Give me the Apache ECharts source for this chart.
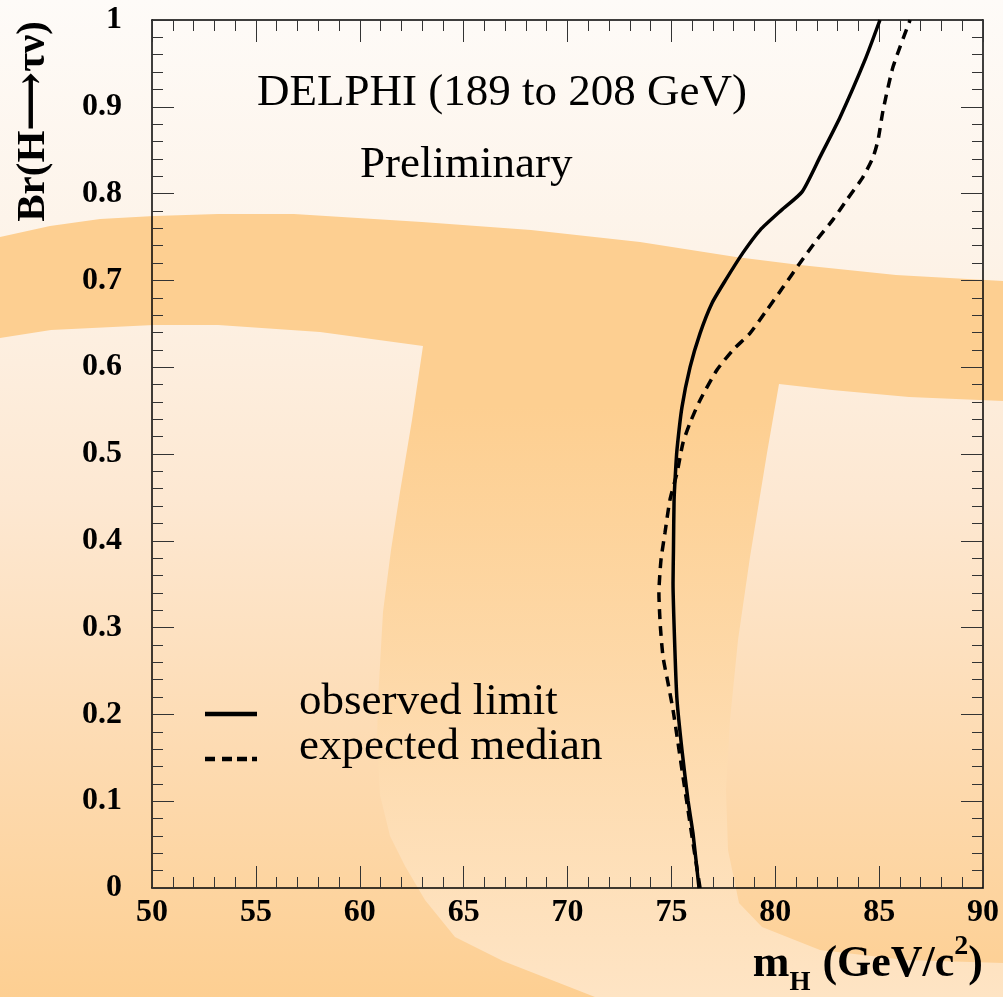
<!DOCTYPE html>
<html>
<head>
<meta charset="utf-8">
<script src="https://cdn.jsdelivr.net/npm/echarts@6.0.0/dist/echarts.min.js"></script>
<style>
html,body{margin:0;padding:0;background:#fefaf6;}
#chart{width:1003px;height:997px;}
</style>
</head>
<body>
<div id="chart"></div>
<script>
// ---- data ----
const obsMass = [76.33, 76.04, 75.80, 75.51, 75.27, 75.17, 75.08, 75.10, 75.13, 75.20, 75.27, 75.51, 75.90, 76.38, 76.96, 77.60, 78.45, 79.27, 80.30, 81.29, 82.15, 83.12, 84.32, 85.04];
const obsBr   = [0.000, 0.063, 0.101, 0.159, 0.217, 0.274, 0.351, 0.389, 0.447, 0.480, 0.505, 0.554, 0.600, 0.639, 0.674, 0.700, 0.732, 0.758, 0.781, 0.802, 0.842, 0.888, 0.954, 1.000];

const expMass = [76.38, 76.04, 75.80, 75.56, 75.32, 75.08, 74.84, 74.60, 74.47, 74.40, 74.50, 74.69, 74.93, 75.27, 75.56, 75.90, 76.38, 77.20, 77.97, 78.78, 79.60, 80.37, 81.19, 82.01, 82.78, 83.45, 84.22, 84.71, 84.95, 85.19, 85.67, 86.49];
const expBr   = [0.000, 0.052, 0.090, 0.128, 0.167, 0.205, 0.236, 0.266, 0.301, 0.340, 0.378, 0.409, 0.447, 0.478, 0.513, 0.536, 0.562, 0.597, 0.620, 0.639, 0.666, 0.692, 0.720, 0.747, 0.770, 0.793, 0.819, 0.842, 0.862, 0.896, 0.946, 1.000];

const seriesNames = ['observed limit', 'expected median'];
const xTickLabels = ['50','55','60','65','70','75','80','85','90'];
const yTickLabels = ['0','0.1','0.2','0.3','0.4','0.5','0.6','0.7','0.8','0.9','1'];
const textLines = ['DELPHI (189 to 208 GeV)', 'Preliminary'];

// ---- decorative background logo outline (page pixels) ----
const logoShape = [
  [0,237],[50,226],[100,219],[154,216],[218,214],[294,214],[422,222],[531,230],[640,242],[736,257],[800,265],[896,275],[1003,281],
  [1003,401],[909,397],[832,390],[779,384],
  [767,453],[750,557],[738,640],[730,720],[726,790],[728,850],[739,903],[762,927],[820,950],[906,960],[1003,963],
  [1003,997],[595,997],
  [503,961],[455,937],[425,900],[405,866],[390,836],[380,795],[377,740],[378,700],[383,612],[391,550],[400,492],[412,420],[423,346],
  [320,332],[218,325],[154,325],[51,330],[0,338]
];

// legend key glyphs (line sitting at the text baseline)
const solidKey  = 'path://M0,0L0.01,0L0.01,0.01Z M0,23h52v4.5h-52z';
const dashedKey = 'path://M0,0L0.01,0L0.01,0.01Z M0,23h10v4.5h-10z M17,23h10v4.5h-10z M32,23h10v4.5h-10z M47,23h5v4.5h-5z';

const serif = 'Liberation Serif';
const chart = echarts.init(document.getElementById('chart'), null, {renderer:'canvas'});

const axisCommon = {
  type: 'value',
  splitLine: {show:false},
  axisLine: {show:true, onZero:false, lineStyle:{color:'#000', width:1.5}},
  axisTick: {show:true, inside:true, length:22, lineStyle:{color:'#333', width:1}},
  minorTick: {show:true, splitNumber:5, length:11, lineStyle:{color:'#333', width:1}},
  minorSplitLine: {show:false}
};

const option = {
  animation: false,
  backgroundColor: 'transparent',
  graphic: [
    {type:'rect', z:-20, silent:true, shape:{x:0,y:0,width:1003,height:997},
     style:{fill:{type:'linear', x:0, y:0, x2:0, y2:997, global:true, colorStops:[
       {offset:0, color:'#fefbf8'},{offset:0.25, color:'#fdf3e8'},{offset:0.5, color:'#fde8d2'},{offset:0.75, color:'#fddbb2'},{offset:1, color:'#fdcf92'}]}}},
    {type:'polygon', z:-19, silent:true, shape:{points: logoShape},
     style:{fill:{type:'linear', x:0, y:210, x2:0, y2:997, global:true, colorStops:[
       {offset:0, color:'#fdcf91'},{offset:0.25, color:'#fdcf91'},{offset:1, color:'#fee4c4'}]}}},
    {type:'text', z:10, x:257, y:93, style:{text:textLines[0], font:'45px "Liberation Serif"', fill:'#000', textAlign:'left', textVerticalAlign:'middle'}},
    {type:'text', z:10, x:360, y:165, style:{text:textLines[1], font:'45px "Liberation Serif"', fill:'#000', textAlign:'left', textVerticalAlign:'middle'}},
    {type:'text', z:10, x:33, y:21, rotation:Math.PI/2, style:{text:'Br(H\u27F6\u03C4\u03BD)', font:'bold 41px "Liberation Serif", "DejaVu Serif", "DejaVu Sans"', fill:'#000', textAlign:'right', textVerticalAlign:'middle'}}
  ],
  grid: {left:152, right:20, top:20, bottom:109, containLabel:false},
  legend: {
    data: [{name: seriesNames[0], icon: solidKey}, {name: seriesNames[1], icon: dashedKey}],
    orient: 'vertical',
    left: 200, top: 675,
    itemWidth: 52, itemHeight: 30, itemGap: 0,
    itemStyle: {color:'#000', borderWidth:0},
    textStyle: {fontFamily: serif, fontSize: 45, color:'#000', lineHeight: 45, padding:[0,0,0,37]},
    inactiveColor: '#000'
  },
  xAxis: [
    Object.assign({}, axisCommon, {
      position:'bottom', min:50, max:90, interval:5,
      axisLabel:{show:true, margin:9, color:'#000', fontFamily:serif, fontWeight:'bold', fontSize:32,
        formatter: v => xTickLabels[Math.round((v-50)/5)]},
      name: '{m|m}{sub|H}{sp| }{m|(GeV/c}{sup|2}{m|)}',
      nameLocation: 'end', nameGap: 0,
      nameTextStyle: {align:'right', verticalAlign:'top', padding:[45,0,0,0],
        rich: {
          m: {fontFamily:serif, fontWeight:'bold', fontSize:44, lineHeight:64, color:'#000', verticalAlign:'middle'},
          sp: {fontFamily:serif, fontWeight:'bold', fontSize:44, lineHeight:64, width:12, color:'#000', verticalAlign:'middle'},
          sub: {fontFamily:serif, fontWeight:'bold', fontSize:27, lineHeight:27, color:'#000', verticalAlign:'bottom'},
          sup: {fontFamily:serif, fontWeight:'bold', fontSize:28, lineHeight:28, color:'#000', verticalAlign:'top'}
        }}
    }),
    Object.assign({}, axisCommon, {position:'top', min:50, max:90, interval:5, axisLabel:{show:false}})
  ],
  yAxis: [
    Object.assign({}, axisCommon, {
      position:'left', min:0, max:1, interval:0.1,
      axisLabel:{show:true, margin:30, color:'#000', fontFamily:serif, fontWeight:'bold', fontSize:32,
        formatter: v => yTickLabels[Math.round(v*10)]}
    }),
    Object.assign({}, axisCommon, {position:'right', min:0, max:1, interval:0.1, axisLabel:{show:false}})
  ],
  series: [
    {name: seriesNames[0], type:'line', xAxisIndex:0, yAxisIndex:0, symbol:'none', smooth:0.2,
     data: obsMass.map((m,i)=>[m, obsBr[i]]),
     lineStyle:{color:'#000', width:3.5, type:'solid'}, itemStyle:{color:'#000'}, z:5},
    {name: seriesNames[1], type:'line', xAxisIndex:0, yAxisIndex:0, symbol:'none', smooth:0.2,
     data: expMass.map((m,i)=>[m, expBr[i]]),
     lineStyle:{color:'#000', width:3.5, type:[10,7]}, itemStyle:{color:'#000'}, z:5}
  ]
};
chart.setOption(option);
</script>
</body>
</html>
